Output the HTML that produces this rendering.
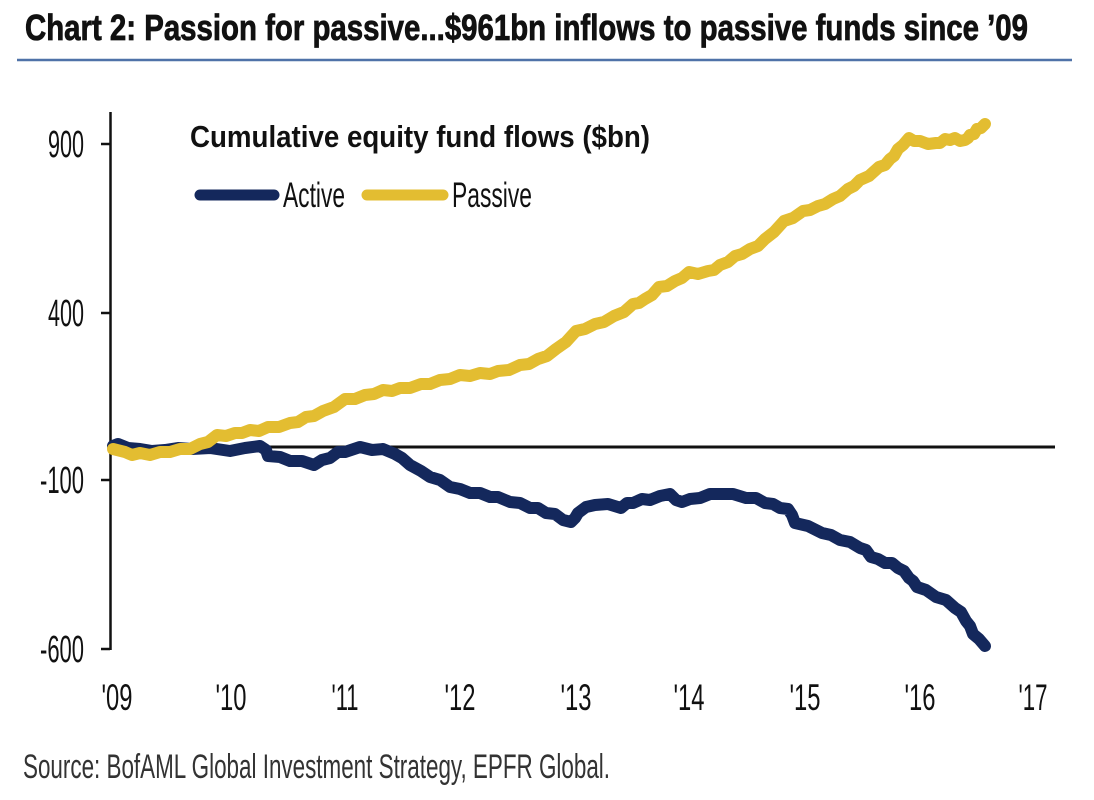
<!DOCTYPE html>
<html>
<head>
<meta charset="utf-8">
<style>
  html, body { margin:0; padding:0; background:#ffffff; }
  svg { display:block; }
  text { font-family: "Liberation Sans", "DejaVu Sans", sans-serif; }
</style>
</head>
<body>
<svg width="1094" height="800" viewBox="0 0 1094 800" xmlns="http://www.w3.org/2000/svg">
  <rect x="0" y="0" width="1094" height="800" fill="#ffffff"/>

  <!-- Title -->
  <text x="25" y="40" font-size="36" font-weight="bold" fill="#111" stroke="#111" stroke-width="0.8" textLength="1003" lengthAdjust="spacingAndGlyphs">Chart 2: Passion for passive...$961bn inflows to passive funds since ’09</text>
  <line x1="17" y1="60" x2="1072" y2="60" stroke="#4f72a8" stroke-width="2.5"/>

  <!-- Chart title -->
  <text x="190" y="147" font-size="31" font-weight="bold" fill="#111" textLength="460" lengthAdjust="spacingAndGlyphs">Cumulative equity fund flows ($bn)</text>

  <!-- Legend -->
  <line x1="200" y1="195" x2="274" y2="195" stroke="#14285c" stroke-width="11" stroke-linecap="round"/>
  <text x="283" y="207" font-size="35" fill="#111" textLength="62" lengthAdjust="spacingAndGlyphs">Active</text>
  <line x1="367" y1="195" x2="443" y2="195" stroke="#e3bd31" stroke-width="11" stroke-linecap="round"/>
  <text x="452" y="207" font-size="35" fill="#111" textLength="80" lengthAdjust="spacingAndGlyphs">Passive</text>

  <!-- Y axis -->
  <line x1="110.5" y1="112" x2="110.5" y2="650" stroke="#111" stroke-width="2.5"/>
  <line x1="101" y1="144" x2="110" y2="144" stroke="#111" stroke-width="2.5"/>
  <line x1="101" y1="313" x2="110" y2="313" stroke="#111" stroke-width="2.5"/>
  <line x1="101" y1="480" x2="110" y2="480" stroke="#111" stroke-width="2.5"/>
  <line x1="101" y1="649" x2="110" y2="649" stroke="#111" stroke-width="2.5"/>

  <g font-size="38" fill="#111" text-anchor="end">
    <text x="84" y="157" textLength="36" lengthAdjust="spacingAndGlyphs">900</text>
    <text x="84" y="326" textLength="36" lengthAdjust="spacingAndGlyphs">400</text>
    <text x="84" y="493" textLength="44" lengthAdjust="spacingAndGlyphs">-100</text>
    <text x="84" y="662" textLength="44" lengthAdjust="spacingAndGlyphs">-600</text>
  </g>

  <!-- X labels -->
  <g font-size="37" fill="#111" text-anchor="middle">
    <text x="117" y="710" textLength="31" lengthAdjust="spacingAndGlyphs">'09</text>
    <text x="231" y="710" textLength="31" lengthAdjust="spacingAndGlyphs">'10</text>
    <text x="345" y="710" textLength="27" lengthAdjust="spacingAndGlyphs">'11</text>
    <text x="460" y="710" textLength="31" lengthAdjust="spacingAndGlyphs">'12</text>
    <text x="576" y="710" textLength="31" lengthAdjust="spacingAndGlyphs">'13</text>
    <text x="689" y="710" textLength="31" lengthAdjust="spacingAndGlyphs">'14</text>
    <text x="805" y="710" textLength="31" lengthAdjust="spacingAndGlyphs">'15</text>
    <text x="920" y="710" textLength="31" lengthAdjust="spacingAndGlyphs">'16</text>
    <text x="1033" y="710" textLength="29" lengthAdjust="spacingAndGlyphs">'17</text>
  </g>

  <!-- Zero line -->
  <line x1="110" y1="447" x2="1055" y2="447" stroke="#111" stroke-width="3"/>

  <!-- Active -->
  <polyline fill="none" stroke="#14285c" stroke-width="12" stroke-linejoin="round" stroke-linecap="round"
    points="113,446 118,444 128,448 140,449 152,451 165,450 178,448 192,449 210,448 230,451 245,448 260,446 266,450 268,456 280,457 290,461 302,461 314,465 322,460 330,458 338,452 345,452 360,447 372,450 383,449 395,454 402,458 410,465 421,471 430,477 440,480 450,487 460,489 470,493 480,493 490,497 498,497 510,502 520,503 530,508 538,508 546,513 555,514 563,520 571,522 575,518 578,513 586,507 595,505 608,504 621,508 627,503 633,503 642,499 650,500 660,496 670,494 676,500 682,502 690,499 700,498 710,494 720,494 733,494 746,498 756,498 765,503 773,504 780,508 788,509 792,515 795,523 808,526 822,533 831,535 840,540 850,542 860,548 866,550 871,557 878,559 885,563 892,563 898,568 904,571 909,578 913,581 917,587 926,590 936,597 946,600 955,608 961,612 966,621 970,626 973,634 979,639 985,646"/>

  <!-- Passive -->
  <polyline fill="none" stroke="#e3bd31" stroke-width="12" stroke-linejoin="round" stroke-linecap="round"
    points="113,449 125,452 132,455 140,453 150,455 160,452 170,452 180,449 190,449 200,444 208,442 217,435 226,436 235,433 242,433 250,430 259,431 268,427 279,427 290,423 298,422 306,417 314,416 323,411 334,407 345,399 355,399 365,395 374,394 383,390 392,391 400,388 410,388 421,384 430,384 440,380 450,379 460,375 470,376 480,373 490,374 498,371 509,370 520,365 529,364 538,359 547,356 556,349 566,342 576,331 585,329 595,324 604,322 614,316 624,312 633,304 639,303 645,299 652,295 659,287 667,286 675,281 682,278 689,272 698,274 708,271 714,270 720,265 728,262 735,256 742,254 750,249 758,246 765,239 774,232 784,221 793,218 803,211 810,210 818,206 825,204 833,199 840,196 848,189 854,186 860,180 869,176 879,167 885,165 890,159 894,156 898,149 903,145 909,138 914,141 920,141 928,144 936,143 940,143 945,139 950,140 955,138 960,141 965,140 968,138 970,135 974,134 977,129 981,128 985,124"/>

  <!-- Source -->
  <text x="23" y="778" font-size="34" fill="#333" textLength="587" lengthAdjust="spacingAndGlyphs">Source: BofAML Global Investment Strategy, EPFR Global.</text>
</svg>
</body>
</html>
